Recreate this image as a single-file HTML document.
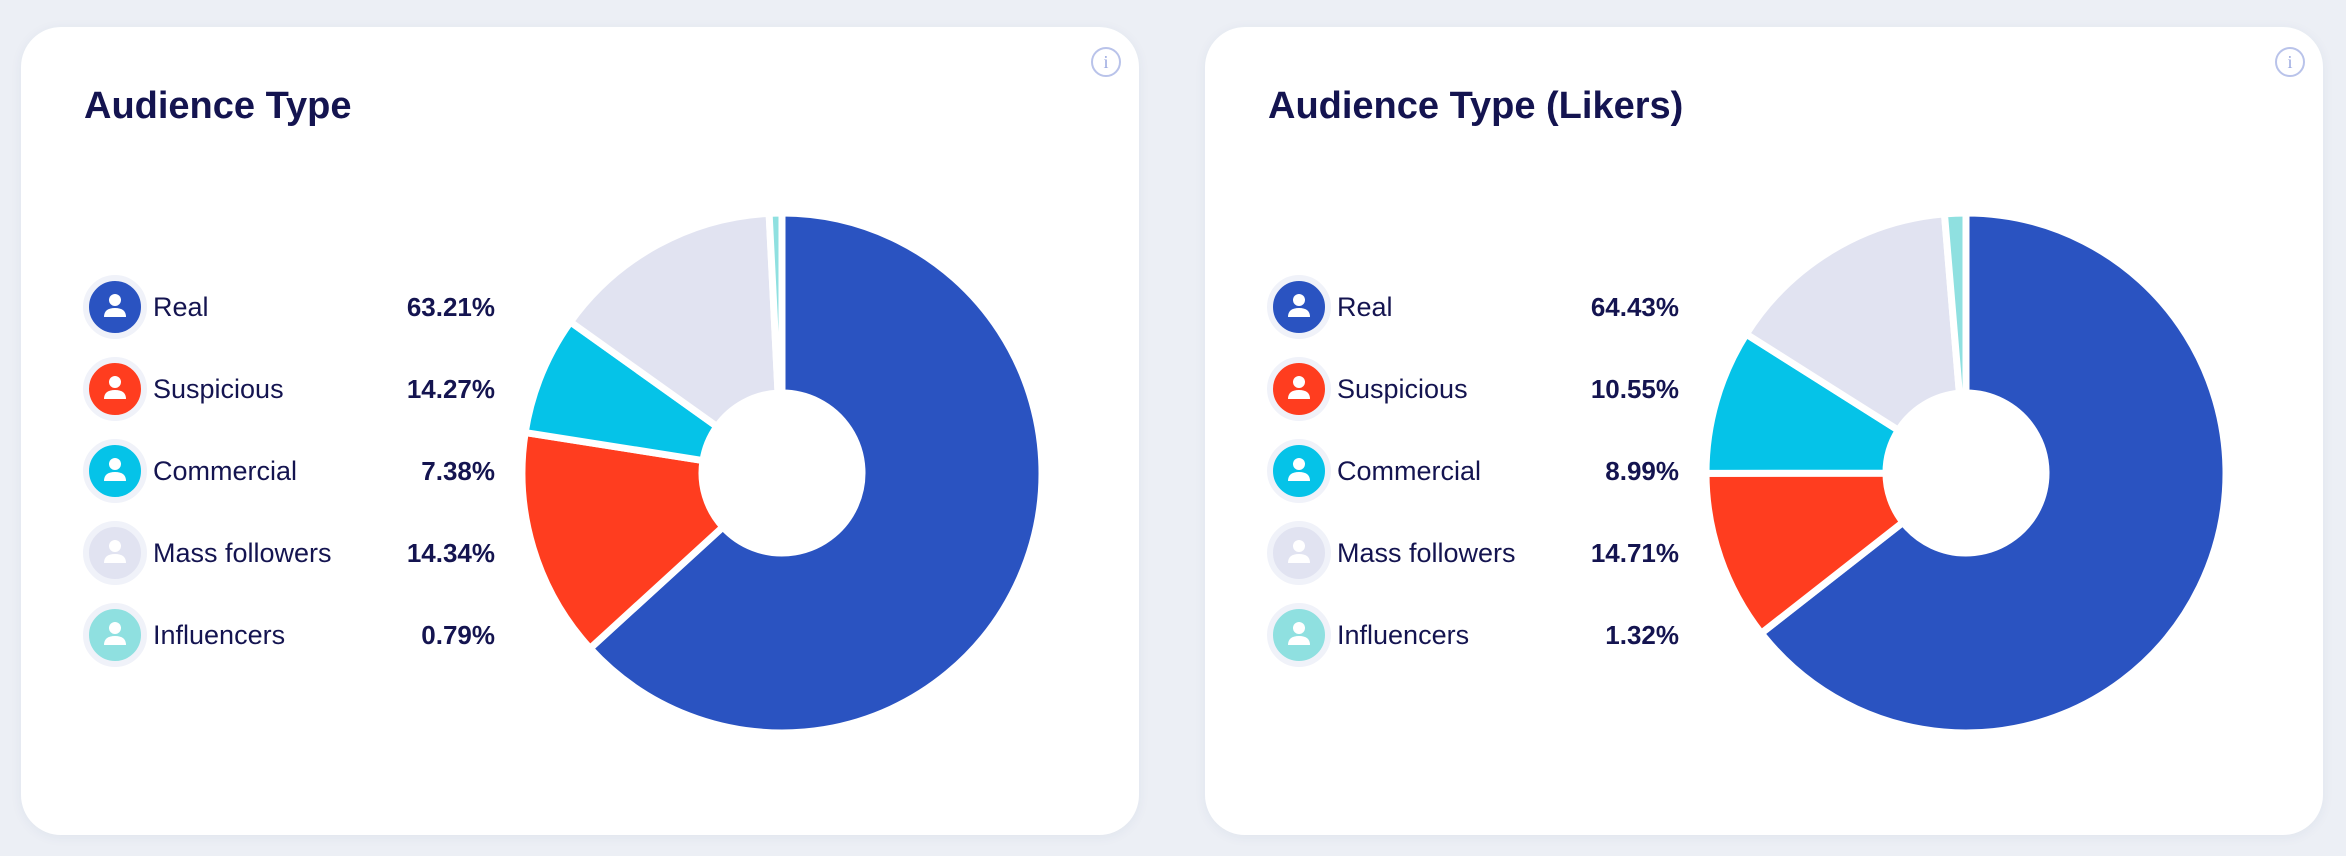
<!DOCTYPE html>
<html><head><meta charset="utf-8"><style>
body{margin:0;width:2346px;height:856px;background:#eceff5;font-family:"Liberation Sans",sans-serif;position:relative;overflow:hidden}
.card{position:absolute;top:27px;width:1118px;height:808px;background:#fff;border-radius:40px;box-shadow:0 2px 12px rgba(40,60,120,.06)}
.title{position:absolute;left:63px;top:58px;font-size:38px;font-weight:bold;color:#141450;letter-spacing:0px}
.info{position:absolute;right:18px;top:20px;width:26px;height:26px;border:2.5px solid #b9c3ea;border-radius:50%;color:#9aa8e0;font-size:18px;text-align:center;line-height:26px;font-family:"Liberation Serif",serif}
.row{position:absolute;left:62px;height:60px;width:460px;z-index:2}
.ic{position:absolute;left:0;top:-7px;width:52px;height:52px;border-radius:50%;border:6px solid #f0f2f9}
.lab{position:absolute;left:70px;top:10px;font-size:27px;color:#141450}
.val{position:absolute;right:48px;top:10px;font-size:26px;font-weight:bold;color:#141450}
svg.pie{position:absolute;left:0;top:0;z-index:1}
</style></head><body>
<div class="card" style="left:21px" id="c1">
<div class="title">Audience Type</div>
<div class="info">i</div>
</div>
<div class="card" style="left:1205px" id="c2">
<div class="title">Audience Type (Likers)</div>
<div class="info">i</div>
</div>
<script>
const categories=["Real","Suspicious","Commercial","Mass followers","Influencers"];
const colors=["#2a53c1","#ff3d1f","#05c3e8","#e1e3f1","#8fe0e0"];
const valuesAll=[63.21,14.27,7.38,14.34,0.79];
const valuesLikers=[64.43,10.55,8.99,14.71,1.32];
const NS="http://www.w3.org/2000/svg";
function person(){return '<svg width="52" height="52" viewBox="0 0 52 52" style="position:absolute;left:0;top:0"><circle cx="26" cy="19" r="6" fill="#fff"/><path d="M15 36 Q15 27 26 27 Q37 27 37 36 Z" fill="#fff"/></svg>';}
function build(cardId,vals){
  const card=document.getElementById(cardId);
  for(let i=0;i<categories.length;i++){
    const r=document.createElement('div');r.className='row';r.style.top=(255+i*82)+'px';
    
    
    r.innerHTML='<div class="ic" style="background:'+colors[i]+'">'+person()+'</div><div class="lab">'+categories[i]+'</div><div class="val">'+vals[i].toFixed(2)+'%</div>';
    card.appendChild(r);
  }
  const svg=document.createElementNS(NS,'svg');svg.setAttribute('class','pie');svg.setAttribute('width','1118');svg.setAttribute('height','808');
  
  
  const cx=761,cy=446,R=260,r0=80;
  const total=vals.reduce((a,b)=>a+b,0);let a0=0;
  vals.forEach((v,i)=>{
    const a1=a0+v/total*Math.PI*2;
    const pt=(a,rr)=>[cx+rr*Math.sin(a),cy-rr*Math.cos(a)];
    const L=(a1-a0)>Math.PI?1:0;
    const p1=pt(a0,R),p2=pt(a1,R),p3=pt(a1,r0),p4=pt(a0,r0);
    const p=document.createElementNS(NS,'path');
    p.setAttribute('d',`M${p1} A${R},${R} 0 ${L} 1 ${p2} L${p3} A${r0},${r0} 0 ${L} 0 ${p4}Z`);
    p.setAttribute('fill',colors[i]);p.setAttribute('stroke','#fff');p.setAttribute('stroke-width','7');p.setAttribute('stroke-linejoin','miter');
    
    
    svg.appendChild(p);a0=a1;
  });
  card.appendChild(svg);
}
build('c1',valuesAll);build('c2',valuesLikers);
</script>
</body></html>
